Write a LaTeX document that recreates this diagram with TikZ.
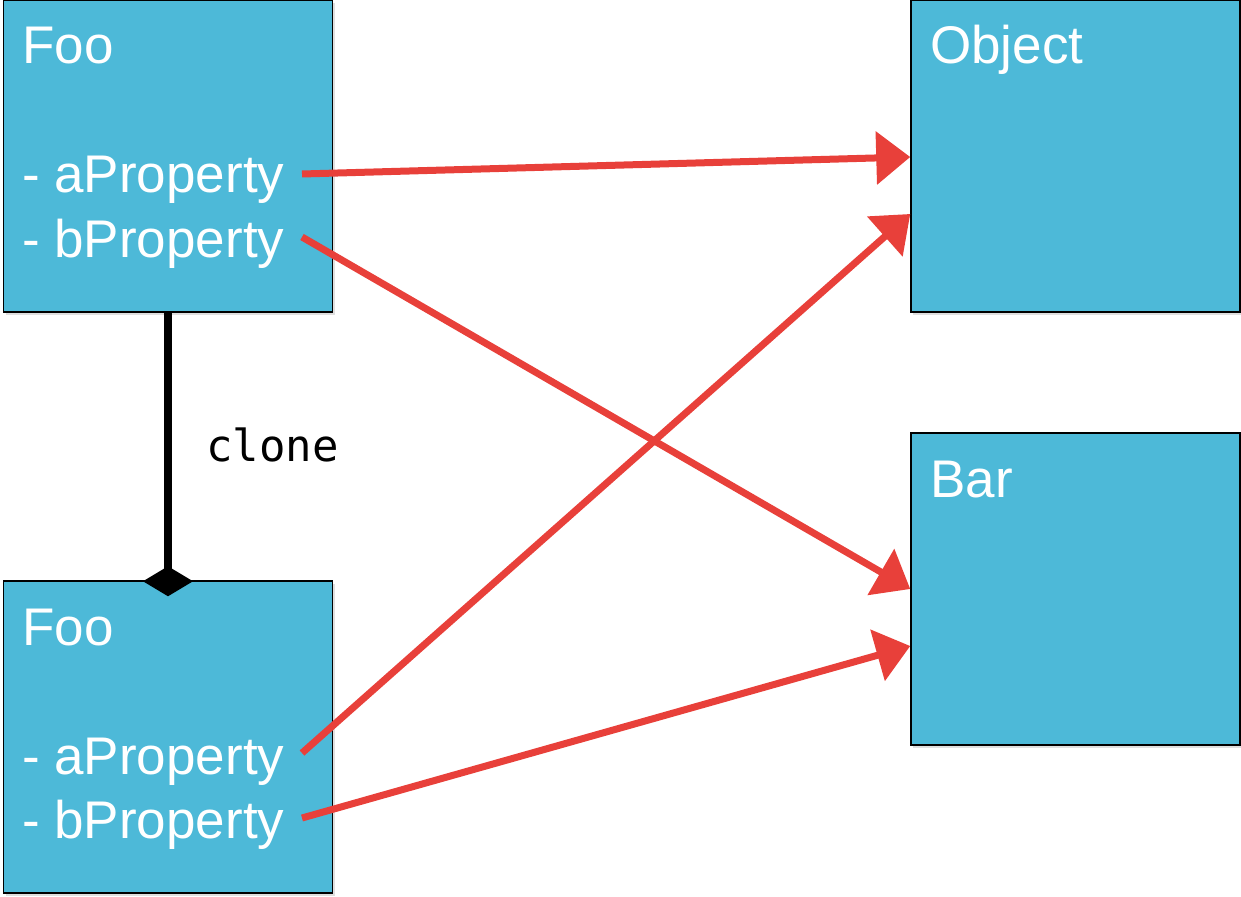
\documentclass[tikz,border=0pt]{standalone}
\usepackage{fontspec}
\setmainfont{Liberation Sans}
\newfontfamily\monofont{DejaVu Sans Mono}
\usetikzlibrary{arrows.meta,shadows,calc}
\definecolor{boxblue}{HTML}{4DB9D8}
\definecolor{arrred}{HTML}{E8403A}
\tikzset{
  classbox/.style={draw=black, line width=1.5pt, fill=boxblue, minimum width=329pt, minimum height=312pt, inner sep=0pt,
    drop shadow={shadow xshift=2pt, shadow yshift=-3pt, opacity=0.25}},
  lbl/.style={anchor=base west, text=white, inner sep=0pt, font=\fontsize{53}{53}\selectfont},
  refarrow/.style={draw=arrred, line width=7pt, -{Triangle[length=34pt,width=52pt]}},
  compo/.style={draw=black, line width=8pt, -{Diamond[length=30pt,width=50pt]}}
}
\begin{document}
\begin{tikzpicture}[x=1pt,y=-1pt]
\useasboundingbox (0,0) rectangle (1241,896);
% boxes
\node[classbox] (foo1) at (168,156) {};
\node[classbox] (obj) at (1075.5,156) {};
\node[classbox] (bar) at (1075.5,589) {};
\node[classbox] (foo2) at (168,737) {};
% labels
\node[lbl] (foo1t) at (22,64) {Foo};
\node[lbl] (foo1a) at (22,193) {- aProperty};
\node[lbl] (foo1b) at (22,257) {- bProperty};
\node[lbl] (objt) at (930,64) {Object};
\node[lbl] (bart) at (930,497) {Bar};
\node[lbl] (foo2t) at (22,645) {Foo};
\node[lbl] (foo2a) at (22,774) {- aProperty};
\node[lbl] (foo2b) at (22,838) {- bProperty};
% composition
\draw[compo] (foo1.south) -- ([yshift=-16pt]foo2.north);
\node[anchor=base west, inner sep=0pt, font=\monofont\fontsize{44}{44}\selectfont] (clone) at (206,461) {clone};
% arrows
\coordinate (s1) at (302,174);
\coordinate (s2) at (302,237);
\coordinate (s3) at (302,753);
\coordinate (s4) at (302,818);
\draw[refarrow] (s1) -- ([yshift=-1pt]obj.west);
\draw[refarrow] (s2) -- (bar.west);
\draw[refarrow] (s3) -- ([yshift=-58pt]obj.west);
\draw[refarrow] (s4) -- ([yshift=-57pt]bar.west);
\end{tikzpicture}
\end{document}
